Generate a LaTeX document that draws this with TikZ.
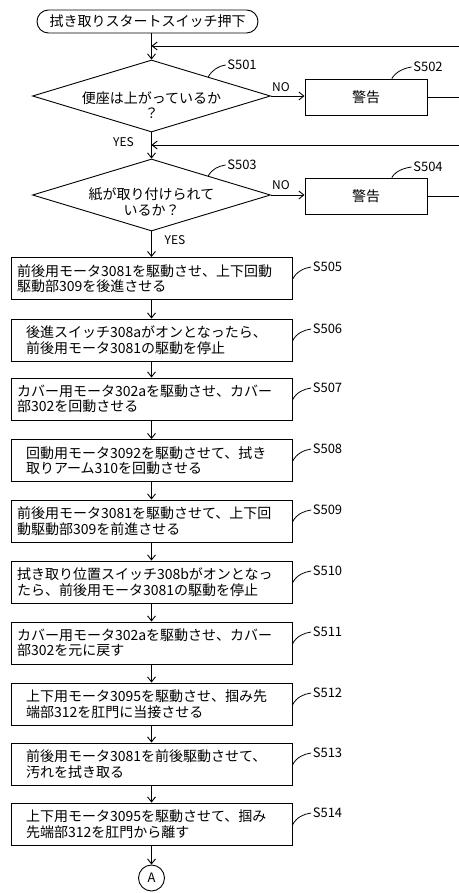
\documentclass[tikz,border=0pt]{standalone}
\usepackage{fontspec}
\newfontfamily\jp{Noto Sans CJK JP}
\usetikzlibrary{arrows.meta,shapes.geometric,calc}
\begin{document}
\begin{tikzpicture}[x=1pt,y=-1pt]
\tikzset{
 base/.style={font=\jp\fontsize{14}{15.5}\selectfont, line width=0.9pt},
 stepbox/.style={base, draw, minimum width=281pt, minimum height=42pt, text width=269pt, inner xsep=6pt, inner ysep=2pt, align=left},
 stepboxi/.style={stepbox, text width=251pt, inner xsep=15pt},
 warnbox/.style={base, draw, minimum width=122pt, minimum height=36pt},
 dec/.style={diamond, draw, line width=0.9pt, minimum width=238pt, minimum height=72pt, inner sep=0pt, aspect=3.3},
 dtext/.style={base, align=center, inner sep=0pt},
 lbl/.style={font=\jp\fontsize{13}{14}\selectfont, inner sep=1.5pt},
 yn/.style={font=\jp\fontsize{12}{13}\selectfont, inner sep=0pt},
 arr/.style={line width=0.9pt, -{Straight Barb[length=5pt,width=8pt]}},
 lead/.style={line width=0.8pt},
}
\useasboundingbox (0,0) rectangle (458,893);

\node[base, draw, rounded corners=11.5pt, minimum width=221pt, minimum height=23pt, inner sep=0pt] (start) at (147.5,21.5) {拭き取りスタートスイッチ押下};

\node[dec] (d1) at (151.5,96) {};
\node[dtext] (d1t) at (151.5,105) {便座は上がっているか\\？};
\node[warnbox] (w1) at (366,97) {警告};
\node[dec] (d2) at (151.5,195) {};
\node[dtext] (d2t) at (151.5,202) {紙が取り付けられて\\いるか？};
\node[warnbox] (w2) at (366,196) {警告};

\node[stepbox]  (s505) at (151.5,278.5) {前後用モータ3081を駆動させ、上下回動\\駆動部309を後進させる};
\node[stepboxi] (s506) at (151.5,340) {後進スイッチ308aがオンとなったら、\\前後用モータ3081の駆動を停止};
\node[stepbox]  (s507) at (151.5,399) {カバー用モータ302aを駆動させ、カバー\\部302を回動させる};
\node[stepboxi] (s508) at (151.5,460.5) {回動用モータ3092を駆動させて、拭き\\取りアーム310を回動させる};
\node[stepbox]  (s509) at (151.5,521) {前後用モータ3081を駆動させて、上下回\\動駆動部309を前進させる};
\node[stepbox]  (s510) at (151.5,582) {拭き取り位置スイッチ308bがオンとなっ\\たら、前後用モータ3081の駆動を停止};
\node[stepbox]  (s511) at (151.5,643) {カバー用モータ302aを駆動させ、カバー\\部302を元に戻す};
\node[stepboxi] (s512) at (151.5,704) {上下用モータ3095を駆動させ、掴み先\\端部312を肛門に当接させる};
\node[stepboxi] (s513) at (151.5,764) {前後用モータ3081を前後駆動させて、\\汚れを拭き取る};
\node[stepboxi] (s514) at (151.5,824) {上下用モータ3095を駆動させて、掴み\\先端部312を肛門から離す};

\node[base, draw, circle, minimum size=26pt, inner sep=0pt, font=\jp\fontsize{13}{14}\selectfont] (A) at (151.5,878) {A};

% labels
\node[lbl] (l501) at (242,65) {S501};
\node[lbl] (l502) at (428,67) {S502};
\node[lbl] (l503) at (242,165) {S503};
\node[lbl] (l504) at (428,167) {S504};
\foreach \n/\t in {505/257,506/319,507/378,508/439,509/500,510/561,511/622,512/683,513/743,514/803}{
  \node[lbl] (l\n) at (327.5,\t+10) {S\n};
  \draw[lead] ($(s\n.east)+(0,1)$) .. controls +(4,-8) and +(-7,1) .. (l\n.west);
}
\draw[lead] ($(d1.north)!0.475!(d1.east)$) .. controls +(4,-7) and +(-7,1) .. (l501.west);
\draw[lead] ($(d2.north)!0.475!(d2.east)$) .. controls +(4,-7) and +(-7,1) .. (l503.west);
\draw[lead] ($(w1.north west)!0.71!(w1.north east)$) .. controls +(4,-7) and +(-7,1) .. (l502.west);
\draw[lead] ($(w2.north west)!0.71!(w2.north east)$) .. controls +(4,-7) and +(-7,1) .. (l504.west);

% YES / NO
\node[yn] (yes1) at (123.5,142) {YES};
\node[yn] (no1) at (281,87) {NO};
\node[yn] (no2) at (281,185) {NO};
\node[yn] (yes2) at (175,240) {YES};

% connectors
\draw[arr] (start.south -| d1.north) -- (d1.north);
\draw[arr] (w1.east) -- (470,97) -- (470,46) -- (151.5,46);
\draw[arr] (d1.east) -- (d1.east -| w1.west);
\draw[arr] (d1.south) -- (d2.north);
\draw[arr] (w2.east) -- (470,196) -- (470,145) -- (151.5,145);
\draw[arr] (d2.east) -- (d2.east -| w2.west);
\draw[arr] (d2.south) -- (s505.north);
\draw[arr] (s505) -- (s506);
\draw[arr] (s506) -- (s507);
\draw[arr] (s507) -- (s508);
\draw[arr] (s508) -- (s509);
\draw[arr] (s509) -- (s510);
\draw[arr] (s510) -- (s511);
\draw[arr] (s511) -- (s512);
\draw[arr] (s512) -- (s513);
\draw[arr] (s513) -- (s514);
\draw[arr] (s514) -- (A);
\end{tikzpicture}
\end{document}
